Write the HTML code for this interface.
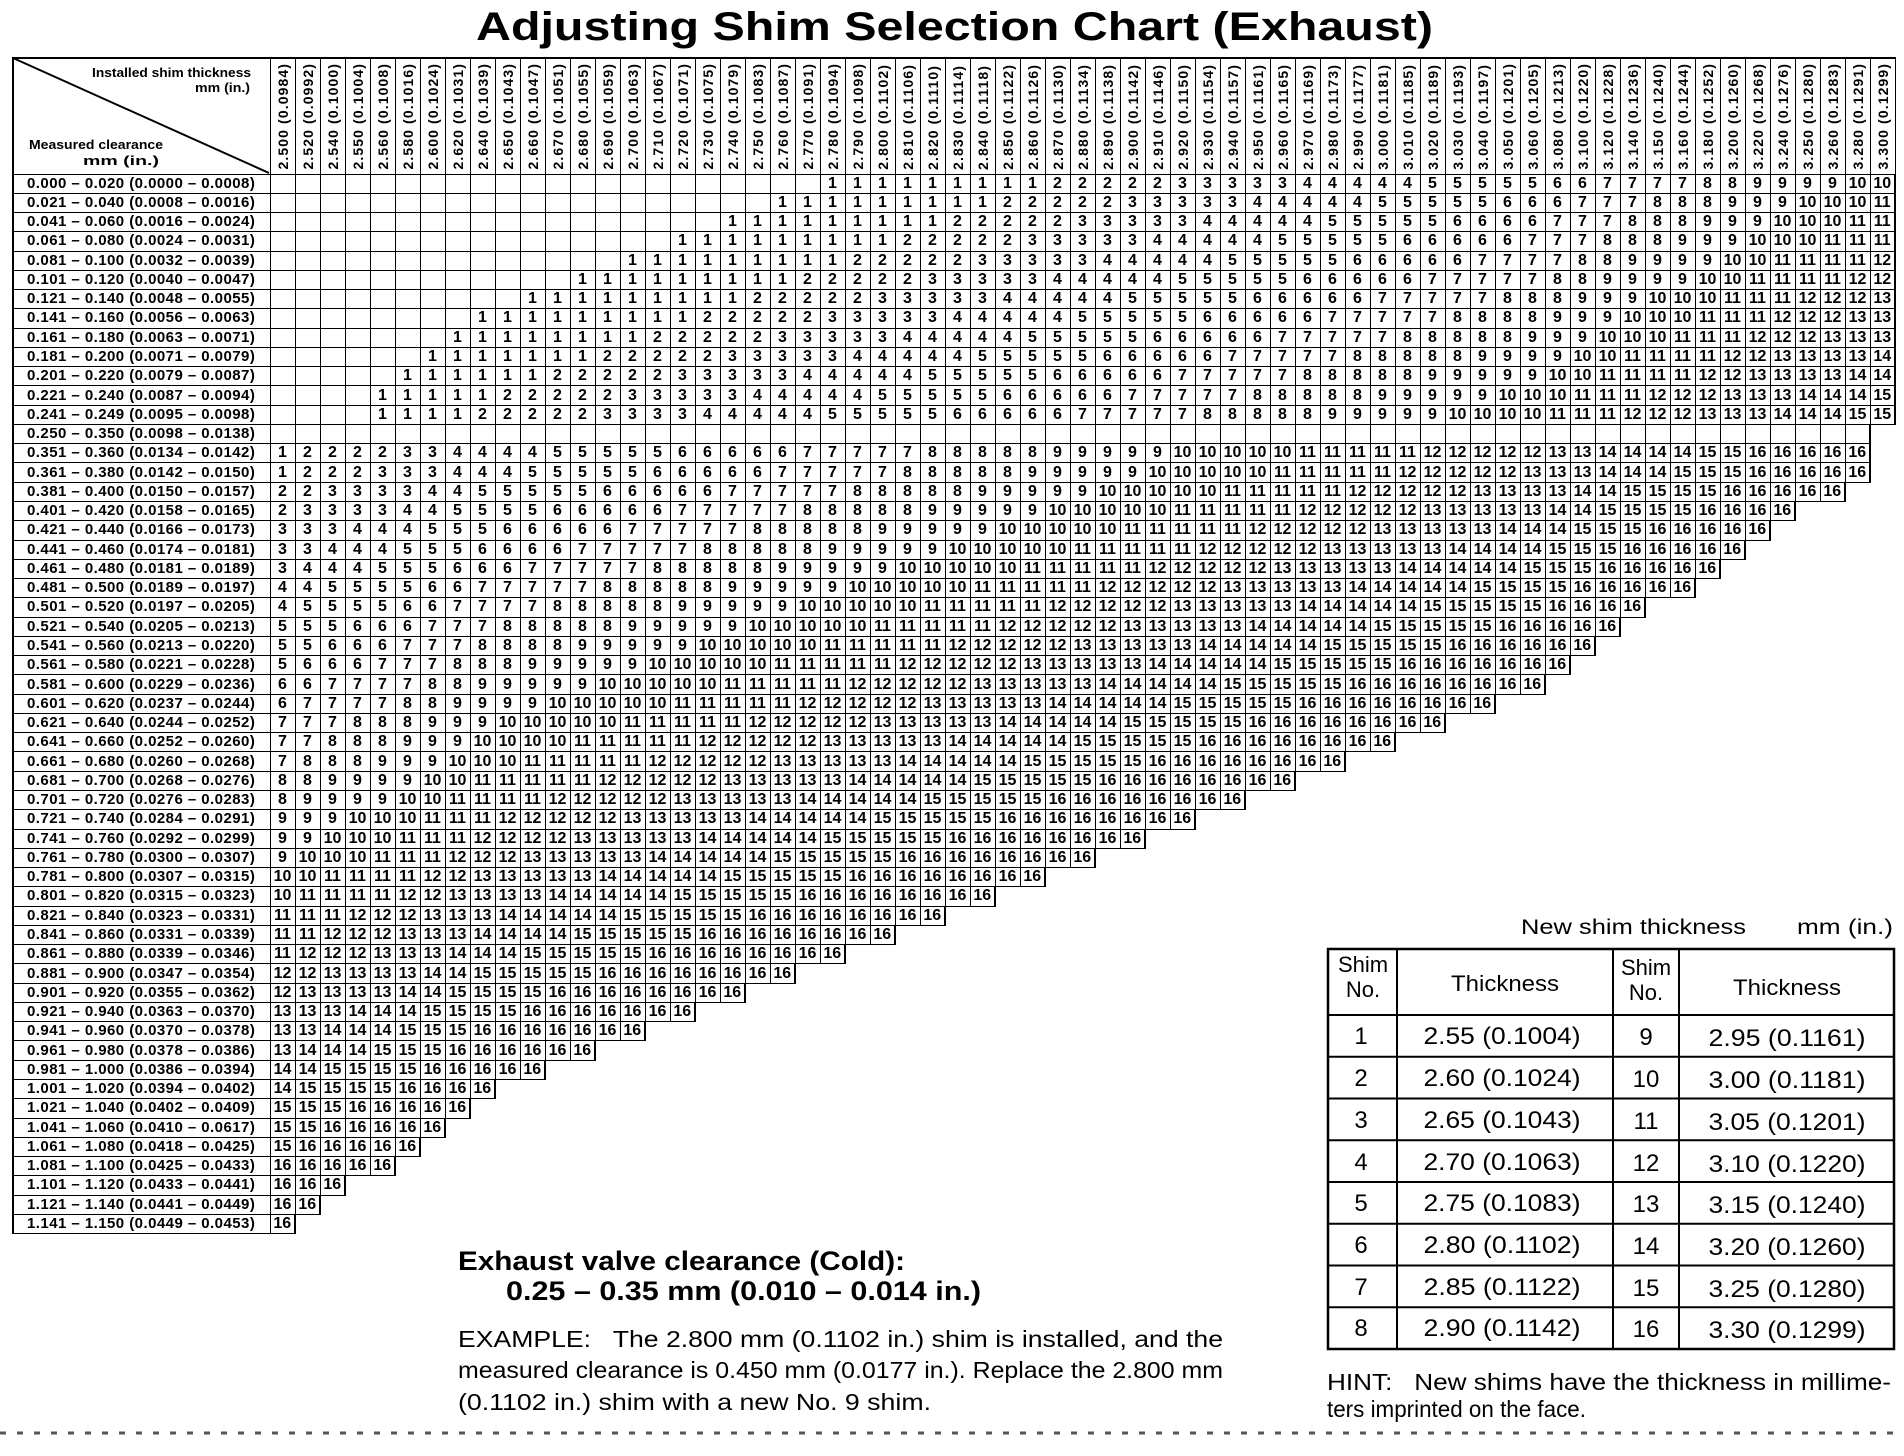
<!DOCTYPE html>
<html><head><meta charset="utf-8">
<style>
html,body{margin:0;padding:0;background:#fff}
body{width:1904px;height:1456px;position:relative;overflow:hidden;font-family:"Liberation Sans",sans-serif;color:#000}
#t{position:absolute;left:12px;top:57px;border-collapse:collapse;table-layout:fixed;width:1882px;font:bold 16px "Liberation Sans",sans-serif}
#t td,#t th{border:1px solid #000;padding:0;text-align:center;vertical-align:middle;line-height:14px;overflow:hidden;white-space:nowrap}
#t tr{height:19.27px}
#t th{text-align:left;padding-left:13px;letter-spacing:.45px;border-left:2px solid #000;font-size:15px}
#t tr.h{height:116px}
#t tr.h th{vertical-align:bottom;text-align:center;padding:0 0 4px 0;line-height:0;font-size:0;letter-spacing:0;border-top:2px solid #000;border-left:1px solid #000}
#t tr.h th.c{border-left:2px solid #000}
#t tr.h th i{display:inline-block;writing-mode:vertical-rl;transform:rotate(180deg);font-style:normal;font-size:14px;line-height:14px;letter-spacing:1.1px}
#t td:last-child{border-right:2px solid #000}
svg{position:absolute;left:0;top:0}
</style></head><body>
<table id="t">
<colgroup><col style="width:257px"><col span="65" style="width:25px"></colgroup>
<tr class="h"><th class="c"></th><th><i>2.500 (0.0984)</i><th><i>2.520 (0.0992)</i><th><i>2.540 (0.1000)</i><th><i>2.550 (0.1004)</i><th><i>2.560 (0.1008)</i><th><i>2.580 (0.1016)</i><th><i>2.600 (0.1024)</i><th><i>2.620 (0.1031)</i><th><i>2.640 (0.1039)</i><th><i>2.650 (0.1043)</i><th><i>2.660 (0.1047)</i><th><i>2.670 (0.1051)</i><th><i>2.680 (0.1055)</i><th><i>2.690 (0.1059)</i><th><i>2.700 (0.1063)</i><th><i>2.710 (0.1067)</i><th><i>2.720 (0.1071)</i><th><i>2.730 (0.1075)</i><th><i>2.740 (0.1079)</i><th><i>2.750 (0.1083)</i><th><i>2.760 (0.1087)</i><th><i>2.770 (0.1091)</i><th><i>2.780 (0.1094)</i><th><i>2.790 (0.1098)</i><th><i>2.800 (0.1102)</i><th><i>2.810 (0.1106)</i><th><i>2.820 (0.1110)</i><th><i>2.830 (0.1114)</i><th><i>2.840 (0.1118)</i><th><i>2.850 (0.1122)</i><th><i>2.860 (0.1126)</i><th><i>2.870 (0.1130)</i><th><i>2.880 (0.1134)</i><th><i>2.890 (0.1138)</i><th><i>2.900 (0.1142)</i><th><i>2.910 (0.1146)</i><th><i>2.920 (0.1150)</i><th><i>2.930 (0.1154)</i><th><i>2.940 (0.1157)</i><th><i>2.950 (0.1161)</i><th><i>2.960 (0.1165)</i><th><i>2.970 (0.1169)</i><th><i>2.980 (0.1173)</i><th><i>2.990 (0.1177)</i><th><i>3.000 (0.1181)</i><th><i>3.010 (0.1185)</i><th><i>3.020 (0.1189)</i><th><i>3.030 (0.1193)</i><th><i>3.040 (0.1197)</i><th><i>3.050 (0.1201)</i><th><i>3.060 (0.1205)</i><th><i>3.080 (0.1213)</i><th><i>3.100 (0.1220)</i><th><i>3.120 (0.1228)</i><th><i>3.140 (0.1236)</i><th><i>3.150 (0.1240)</i><th><i>3.160 (0.1244)</i><th><i>3.180 (0.1252)</i><th><i>3.200 (0.1260)</i><th><i>3.220 (0.1268)</i><th><i>3.240 (0.1276)</i><th><i>3.250 (0.1280)</i><th><i>3.260 (0.1283)</i><th><i>3.280 (0.1291)</i><th><i>3.300 (0.1299)</i>
<tr><th>0.000 – 0.020 (0.0000 – 0.0008)<td><td><td><td><td><td><td><td><td><td><td><td><td><td><td><td><td><td><td><td><td><td><td>1<td>1<td>1<td>1<td>1<td>1<td>1<td>1<td>1<td>2<td>2<td>2<td>2<td>2<td>3<td>3<td>3<td>3<td>3<td>4<td>4<td>4<td>4<td>4<td>5<td>5<td>5<td>5<td>5<td>6<td>6<td>7<td>7<td>7<td>7<td>8<td>8<td>9<td>9<td>9<td>9<td>10<td>10
<tr><th>0.021 – 0.040 (0.0008 – 0.0016)<td><td><td><td><td><td><td><td><td><td><td><td><td><td><td><td><td><td><td><td><td>1<td>1<td>1<td>1<td>1<td>1<td>1<td>1<td>1<td>2<td>2<td>2<td>2<td>2<td>3<td>3<td>3<td>3<td>3<td>4<td>4<td>4<td>4<td>4<td>5<td>5<td>5<td>5<td>5<td>6<td>6<td>6<td>7<td>7<td>7<td>8<td>8<td>8<td>9<td>9<td>9<td>10<td>10<td>10<td>11
<tr><th>0.041 – 0.060 (0.0016 – 0.0024)<td><td><td><td><td><td><td><td><td><td><td><td><td><td><td><td><td><td><td>1<td>1<td>1<td>1<td>1<td>1<td>1<td>1<td>1<td>2<td>2<td>2<td>2<td>2<td>3<td>3<td>3<td>3<td>3<td>4<td>4<td>4<td>4<td>4<td>5<td>5<td>5<td>5<td>5<td>6<td>6<td>6<td>6<td>7<td>7<td>7<td>8<td>8<td>8<td>9<td>9<td>9<td>10<td>10<td>10<td>11<td>11
<tr><th>0.061 – 0.080 (0.0024 – 0.0031)<td><td><td><td><td><td><td><td><td><td><td><td><td><td><td><td><td>1<td>1<td>1<td>1<td>1<td>1<td>1<td>1<td>1<td>2<td>2<td>2<td>2<td>2<td>3<td>3<td>3<td>3<td>3<td>4<td>4<td>4<td>4<td>4<td>5<td>5<td>5<td>5<td>5<td>6<td>6<td>6<td>6<td>6<td>7<td>7<td>7<td>8<td>8<td>8<td>9<td>9<td>9<td>10<td>10<td>10<td>11<td>11<td>11
<tr><th>0.081 – 0.100 (0.0032 – 0.0039)<td><td><td><td><td><td><td><td><td><td><td><td><td><td><td>1<td>1<td>1<td>1<td>1<td>1<td>1<td>1<td>1<td>2<td>2<td>2<td>2<td>2<td>3<td>3<td>3<td>3<td>3<td>4<td>4<td>4<td>4<td>4<td>5<td>5<td>5<td>5<td>5<td>6<td>6<td>6<td>6<td>6<td>7<td>7<td>7<td>7<td>8<td>8<td>9<td>9<td>9<td>9<td>10<td>10<td>11<td>11<td>11<td>11<td>12
<tr><th>0.101 – 0.120 (0.0040 – 0.0047)<td><td><td><td><td><td><td><td><td><td><td><td><td>1<td>1<td>1<td>1<td>1<td>1<td>1<td>1<td>1<td>2<td>2<td>2<td>2<td>2<td>3<td>3<td>3<td>3<td>3<td>4<td>4<td>4<td>4<td>4<td>5<td>5<td>5<td>5<td>5<td>6<td>6<td>6<td>6<td>6<td>7<td>7<td>7<td>7<td>7<td>8<td>8<td>9<td>9<td>9<td>9<td>10<td>10<td>11<td>11<td>11<td>11<td>12<td>12
<tr><th>0.121 – 0.140 (0.0048 – 0.0055)<td><td><td><td><td><td><td><td><td><td><td>1<td>1<td>1<td>1<td>1<td>1<td>1<td>1<td>1<td>2<td>2<td>2<td>2<td>2<td>3<td>3<td>3<td>3<td>3<td>4<td>4<td>4<td>4<td>4<td>5<td>5<td>5<td>5<td>5<td>6<td>6<td>6<td>6<td>6<td>7<td>7<td>7<td>7<td>7<td>8<td>8<td>8<td>9<td>9<td>9<td>10<td>10<td>10<td>11<td>11<td>11<td>12<td>12<td>12<td>13
<tr><th>0.141 – 0.160 (0.0056 – 0.0063)<td><td><td><td><td><td><td><td><td>1<td>1<td>1<td>1<td>1<td>1<td>1<td>1<td>1<td>2<td>2<td>2<td>2<td>2<td>3<td>3<td>3<td>3<td>3<td>4<td>4<td>4<td>4<td>4<td>5<td>5<td>5<td>5<td>5<td>6<td>6<td>6<td>6<td>6<td>7<td>7<td>7<td>7<td>7<td>8<td>8<td>8<td>8<td>9<td>9<td>9<td>10<td>10<td>10<td>11<td>11<td>11<td>12<td>12<td>12<td>13<td>13
<tr><th>0.161 – 0.180 (0.0063 – 0.0071)<td><td><td><td><td><td><td><td>1<td>1<td>1<td>1<td>1<td>1<td>1<td>1<td>2<td>2<td>2<td>2<td>2<td>3<td>3<td>3<td>3<td>3<td>4<td>4<td>4<td>4<td>4<td>5<td>5<td>5<td>5<td>5<td>6<td>6<td>6<td>6<td>6<td>7<td>7<td>7<td>7<td>7<td>8<td>8<td>8<td>8<td>8<td>9<td>9<td>9<td>10<td>10<td>10<td>11<td>11<td>11<td>12<td>12<td>12<td>13<td>13<td>13
<tr><th>0.181 – 0.200 (0.0071 – 0.0079)<td><td><td><td><td><td><td>1<td>1<td>1<td>1<td>1<td>1<td>1<td>2<td>2<td>2<td>2<td>2<td>3<td>3<td>3<td>3<td>3<td>4<td>4<td>4<td>4<td>4<td>5<td>5<td>5<td>5<td>5<td>6<td>6<td>6<td>6<td>6<td>7<td>7<td>7<td>7<td>7<td>8<td>8<td>8<td>8<td>8<td>9<td>9<td>9<td>9<td>10<td>10<td>11<td>11<td>11<td>11<td>12<td>12<td>13<td>13<td>13<td>13<td>14
<tr><th>0.201 – 0.220 (0.0079 – 0.0087)<td><td><td><td><td><td>1<td>1<td>1<td>1<td>1<td>1<td>2<td>2<td>2<td>2<td>2<td>3<td>3<td>3<td>3<td>3<td>4<td>4<td>4<td>4<td>4<td>5<td>5<td>5<td>5<td>5<td>6<td>6<td>6<td>6<td>6<td>7<td>7<td>7<td>7<td>7<td>8<td>8<td>8<td>8<td>8<td>9<td>9<td>9<td>9<td>9<td>10<td>10<td>11<td>11<td>11<td>11<td>12<td>12<td>13<td>13<td>13<td>13<td>14<td>14
<tr><th>0.221 – 0.240 (0.0087 – 0.0094)<td><td><td><td><td>1<td>1<td>1<td>1<td>1<td>2<td>2<td>2<td>2<td>2<td>3<td>3<td>3<td>3<td>3<td>4<td>4<td>4<td>4<td>4<td>5<td>5<td>5<td>5<td>5<td>6<td>6<td>6<td>6<td>6<td>7<td>7<td>7<td>7<td>7<td>8<td>8<td>8<td>8<td>8<td>9<td>9<td>9<td>9<td>9<td>10<td>10<td>10<td>11<td>11<td>11<td>12<td>12<td>12<td>13<td>13<td>13<td>14<td>14<td>14<td>15
<tr><th>0.241 – 0.249 (0.0095 – 0.0098)<td><td><td><td><td>1<td>1<td>1<td>1<td>2<td>2<td>2<td>2<td>2<td>3<td>3<td>3<td>3<td>4<td>4<td>4<td>4<td>4<td>5<td>5<td>5<td>5<td>5<td>6<td>6<td>6<td>6<td>6<td>7<td>7<td>7<td>7<td>7<td>8<td>8<td>8<td>8<td>8<td>9<td>9<td>9<td>9<td>9<td>10<td>10<td>10<td>10<td>11<td>11<td>11<td>12<td>12<td>12<td>13<td>13<td>13<td>14<td>14<td>14<td>15<td>15
<tr><th>0.250 – 0.350 (0.0098 – 0.0138)<td><td><td><td><td><td><td><td><td><td><td><td><td><td><td><td><td><td><td><td><td><td><td><td><td><td><td><td><td><td><td><td><td><td><td><td><td><td><td><td><td><td><td><td><td><td><td><td><td><td><td><td><td><td><td><td><td><td><td><td><td><td><td><td>
<tr><th>0.351 – 0.360 (0.0134 – 0.0142)<td>1<td>2<td>2<td>2<td>2<td>3<td>3<td>4<td>4<td>4<td>4<td>5<td>5<td>5<td>5<td>5<td>6<td>6<td>6<td>6<td>6<td>7<td>7<td>7<td>7<td>7<td>8<td>8<td>8<td>8<td>8<td>9<td>9<td>9<td>9<td>9<td>10<td>10<td>10<td>10<td>10<td>11<td>11<td>11<td>11<td>11<td>12<td>12<td>12<td>12<td>12<td>13<td>13<td>14<td>14<td>14<td>14<td>15<td>15<td>16<td>16<td>16<td>16<td>16
<tr><th>0.361 – 0.380 (0.0142 – 0.0150)<td>1<td>2<td>2<td>2<td>3<td>3<td>3<td>4<td>4<td>4<td>5<td>5<td>5<td>5<td>5<td>6<td>6<td>6<td>6<td>6<td>7<td>7<td>7<td>7<td>7<td>8<td>8<td>8<td>8<td>8<td>9<td>9<td>9<td>9<td>9<td>10<td>10<td>10<td>10<td>10<td>11<td>11<td>11<td>11<td>11<td>12<td>12<td>12<td>12<td>12<td>13<td>13<td>13<td>14<td>14<td>14<td>15<td>15<td>15<td>16<td>16<td>16<td>16<td>16
<tr><th>0.381 – 0.400 (0.0150 – 0.0157)<td>2<td>2<td>3<td>3<td>3<td>3<td>4<td>4<td>5<td>5<td>5<td>5<td>5<td>6<td>6<td>6<td>6<td>6<td>7<td>7<td>7<td>7<td>7<td>8<td>8<td>8<td>8<td>8<td>9<td>9<td>9<td>9<td>9<td>10<td>10<td>10<td>10<td>10<td>11<td>11<td>11<td>11<td>11<td>12<td>12<td>12<td>12<td>12<td>13<td>13<td>13<td>13<td>14<td>14<td>15<td>15<td>15<td>15<td>16<td>16<td>16<td>16<td>16
<tr><th>0.401 – 0.420 (0.0158 – 0.0165)<td>2<td>3<td>3<td>3<td>3<td>4<td>4<td>5<td>5<td>5<td>5<td>6<td>6<td>6<td>6<td>6<td>7<td>7<td>7<td>7<td>7<td>8<td>8<td>8<td>8<td>8<td>9<td>9<td>9<td>9<td>9<td>10<td>10<td>10<td>10<td>10<td>11<td>11<td>11<td>11<td>11<td>12<td>12<td>12<td>12<td>12<td>13<td>13<td>13<td>13<td>13<td>14<td>14<td>15<td>15<td>15<td>15<td>16<td>16<td>16<td>16
<tr><th>0.421 – 0.440 (0.0166 – 0.0173)<td>3<td>3<td>3<td>4<td>4<td>4<td>5<td>5<td>5<td>6<td>6<td>6<td>6<td>6<td>7<td>7<td>7<td>7<td>7<td>8<td>8<td>8<td>8<td>8<td>9<td>9<td>9<td>9<td>9<td>10<td>10<td>10<td>10<td>10<td>11<td>11<td>11<td>11<td>11<td>12<td>12<td>12<td>12<td>12<td>13<td>13<td>13<td>13<td>13<td>14<td>14<td>14<td>15<td>15<td>15<td>16<td>16<td>16<td>16<td>16
<tr><th>0.441 – 0.460 (0.0174 – 0.0181)<td>3<td>3<td>4<td>4<td>4<td>5<td>5<td>5<td>6<td>6<td>6<td>6<td>7<td>7<td>7<td>7<td>7<td>8<td>8<td>8<td>8<td>8<td>9<td>9<td>9<td>9<td>9<td>10<td>10<td>10<td>10<td>10<td>11<td>11<td>11<td>11<td>11<td>12<td>12<td>12<td>12<td>12<td>13<td>13<td>13<td>13<td>13<td>14<td>14<td>14<td>14<td>15<td>15<td>15<td>16<td>16<td>16<td>16<td>16
<tr><th>0.461 – 0.480 (0.0181 – 0.0189)<td>3<td>4<td>4<td>4<td>5<td>5<td>5<td>6<td>6<td>6<td>7<td>7<td>7<td>7<td>7<td>8<td>8<td>8<td>8<td>8<td>9<td>9<td>9<td>9<td>9<td>10<td>10<td>10<td>10<td>10<td>11<td>11<td>11<td>11<td>11<td>12<td>12<td>12<td>12<td>12<td>13<td>13<td>13<td>13<td>13<td>14<td>14<td>14<td>14<td>14<td>15<td>15<td>15<td>16<td>16<td>16<td>16<td>16
<tr><th>0.481 – 0.500 (0.0189 – 0.0197)<td>4<td>4<td>5<td>5<td>5<td>5<td>6<td>6<td>7<td>7<td>7<td>7<td>7<td>8<td>8<td>8<td>8<td>8<td>9<td>9<td>9<td>9<td>9<td>10<td>10<td>10<td>10<td>10<td>11<td>11<td>11<td>11<td>11<td>12<td>12<td>12<td>12<td>12<td>13<td>13<td>13<td>13<td>13<td>14<td>14<td>14<td>14<td>14<td>15<td>15<td>15<td>15<td>16<td>16<td>16<td>16<td>16
<tr><th>0.501 – 0.520 (0.0197 – 0.0205)<td>4<td>5<td>5<td>5<td>5<td>6<td>6<td>7<td>7<td>7<td>7<td>8<td>8<td>8<td>8<td>8<td>9<td>9<td>9<td>9<td>9<td>10<td>10<td>10<td>10<td>10<td>11<td>11<td>11<td>11<td>11<td>12<td>12<td>12<td>12<td>12<td>13<td>13<td>13<td>13<td>13<td>14<td>14<td>14<td>14<td>14<td>15<td>15<td>15<td>15<td>15<td>16<td>16<td>16<td>16
<tr><th>0.521 – 0.540 (0.0205 – 0.0213)<td>5<td>5<td>5<td>6<td>6<td>6<td>7<td>7<td>7<td>8<td>8<td>8<td>8<td>8<td>9<td>9<td>9<td>9<td>9<td>10<td>10<td>10<td>10<td>10<td>11<td>11<td>11<td>11<td>11<td>12<td>12<td>12<td>12<td>12<td>13<td>13<td>13<td>13<td>13<td>14<td>14<td>14<td>14<td>14<td>15<td>15<td>15<td>15<td>15<td>16<td>16<td>16<td>16<td>16
<tr><th>0.541 – 0.560 (0.0213 – 0.0220)<td>5<td>5<td>6<td>6<td>6<td>7<td>7<td>7<td>8<td>8<td>8<td>8<td>9<td>9<td>9<td>9<td>9<td>10<td>10<td>10<td>10<td>10<td>11<td>11<td>11<td>11<td>11<td>12<td>12<td>12<td>12<td>12<td>13<td>13<td>13<td>13<td>13<td>14<td>14<td>14<td>14<td>14<td>15<td>15<td>15<td>15<td>15<td>16<td>16<td>16<td>16<td>16<td>16
<tr><th>0.561 – 0.580 (0.0221 – 0.0228)<td>5<td>6<td>6<td>6<td>7<td>7<td>7<td>8<td>8<td>8<td>9<td>9<td>9<td>9<td>9<td>10<td>10<td>10<td>10<td>10<td>11<td>11<td>11<td>11<td>11<td>12<td>12<td>12<td>12<td>12<td>13<td>13<td>13<td>13<td>13<td>14<td>14<td>14<td>14<td>14<td>15<td>15<td>15<td>15<td>15<td>16<td>16<td>16<td>16<td>16<td>16<td>16
<tr><th>0.581 – 0.600 (0.0229 – 0.0236)<td>6<td>6<td>7<td>7<td>7<td>7<td>8<td>8<td>9<td>9<td>9<td>9<td>9<td>10<td>10<td>10<td>10<td>10<td>11<td>11<td>11<td>11<td>11<td>12<td>12<td>12<td>12<td>12<td>13<td>13<td>13<td>13<td>13<td>14<td>14<td>14<td>14<td>14<td>15<td>15<td>15<td>15<td>15<td>16<td>16<td>16<td>16<td>16<td>16<td>16<td>16
<tr><th>0.601 – 0.620 (0.0237 – 0.0244)<td>6<td>7<td>7<td>7<td>7<td>8<td>8<td>9<td>9<td>9<td>9<td>10<td>10<td>10<td>10<td>10<td>11<td>11<td>11<td>11<td>11<td>12<td>12<td>12<td>12<td>12<td>13<td>13<td>13<td>13<td>13<td>14<td>14<td>14<td>14<td>14<td>15<td>15<td>15<td>15<td>15<td>16<td>16<td>16<td>16<td>16<td>16<td>16<td>16
<tr><th>0.621 – 0.640 (0.0244 – 0.0252)<td>7<td>7<td>7<td>8<td>8<td>8<td>9<td>9<td>9<td>10<td>10<td>10<td>10<td>10<td>11<td>11<td>11<td>11<td>11<td>12<td>12<td>12<td>12<td>12<td>13<td>13<td>13<td>13<td>13<td>14<td>14<td>14<td>14<td>14<td>15<td>15<td>15<td>15<td>15<td>16<td>16<td>16<td>16<td>16<td>16<td>16<td>16
<tr><th>0.641 – 0.660 (0.0252 – 0.0260)<td>7<td>7<td>8<td>8<td>8<td>9<td>9<td>9<td>10<td>10<td>10<td>10<td>11<td>11<td>11<td>11<td>11<td>12<td>12<td>12<td>12<td>12<td>13<td>13<td>13<td>13<td>13<td>14<td>14<td>14<td>14<td>14<td>15<td>15<td>15<td>15<td>15<td>16<td>16<td>16<td>16<td>16<td>16<td>16<td>16
<tr><th>0.661 – 0.680 (0.0260 – 0.0268)<td>7<td>8<td>8<td>8<td>9<td>9<td>9<td>10<td>10<td>10<td>11<td>11<td>11<td>11<td>11<td>12<td>12<td>12<td>12<td>12<td>13<td>13<td>13<td>13<td>13<td>14<td>14<td>14<td>14<td>14<td>15<td>15<td>15<td>15<td>15<td>16<td>16<td>16<td>16<td>16<td>16<td>16<td>16
<tr><th>0.681 – 0.700 (0.0268 – 0.0276)<td>8<td>8<td>9<td>9<td>9<td>9<td>10<td>10<td>11<td>11<td>11<td>11<td>11<td>12<td>12<td>12<td>12<td>12<td>13<td>13<td>13<td>13<td>13<td>14<td>14<td>14<td>14<td>14<td>15<td>15<td>15<td>15<td>15<td>16<td>16<td>16<td>16<td>16<td>16<td>16<td>16
<tr><th>0.701 – 0.720 (0.0276 – 0.0283)<td>8<td>9<td>9<td>9<td>9<td>10<td>10<td>11<td>11<td>11<td>11<td>12<td>12<td>12<td>12<td>12<td>13<td>13<td>13<td>13<td>13<td>14<td>14<td>14<td>14<td>14<td>15<td>15<td>15<td>15<td>15<td>16<td>16<td>16<td>16<td>16<td>16<td>16<td>16
<tr><th>0.721 – 0.740 (0.0284 – 0.0291)<td>9<td>9<td>9<td>10<td>10<td>10<td>11<td>11<td>11<td>12<td>12<td>12<td>12<td>12<td>13<td>13<td>13<td>13<td>13<td>14<td>14<td>14<td>14<td>14<td>15<td>15<td>15<td>15<td>15<td>16<td>16<td>16<td>16<td>16<td>16<td>16<td>16
<tr><th>0.741 – 0.760 (0.0292 – 0.0299)<td>9<td>9<td>10<td>10<td>10<td>11<td>11<td>11<td>12<td>12<td>12<td>12<td>13<td>13<td>13<td>13<td>13<td>14<td>14<td>14<td>14<td>14<td>15<td>15<td>15<td>15<td>15<td>16<td>16<td>16<td>16<td>16<td>16<td>16<td>16
<tr><th>0.761 – 0.780 (0.0300 – 0.0307)<td>9<td>10<td>10<td>10<td>11<td>11<td>11<td>12<td>12<td>12<td>13<td>13<td>13<td>13<td>13<td>14<td>14<td>14<td>14<td>14<td>15<td>15<td>15<td>15<td>15<td>16<td>16<td>16<td>16<td>16<td>16<td>16<td>16
<tr><th>0.781 – 0.800 (0.0307 – 0.0315)<td>10<td>10<td>11<td>11<td>11<td>11<td>12<td>12<td>13<td>13<td>13<td>13<td>13<td>14<td>14<td>14<td>14<td>14<td>15<td>15<td>15<td>15<td>15<td>16<td>16<td>16<td>16<td>16<td>16<td>16<td>16
<tr><th>0.801 – 0.820 (0.0315 – 0.0323)<td>10<td>11<td>11<td>11<td>11<td>12<td>12<td>13<td>13<td>13<td>13<td>14<td>14<td>14<td>14<td>14<td>15<td>15<td>15<td>15<td>15<td>16<td>16<td>16<td>16<td>16<td>16<td>16<td>16
<tr><th>0.821 – 0.840 (0.0323 – 0.0331)<td>11<td>11<td>11<td>12<td>12<td>12<td>13<td>13<td>13<td>14<td>14<td>14<td>14<td>14<td>15<td>15<td>15<td>15<td>15<td>16<td>16<td>16<td>16<td>16<td>16<td>16<td>16
<tr><th>0.841 – 0.860 (0.0331 – 0.0339)<td>11<td>11<td>12<td>12<td>12<td>13<td>13<td>13<td>14<td>14<td>14<td>14<td>15<td>15<td>15<td>15<td>15<td>16<td>16<td>16<td>16<td>16<td>16<td>16<td>16
<tr><th>0.861 – 0.880 (0.0339 – 0.0346)<td>11<td>12<td>12<td>12<td>13<td>13<td>13<td>14<td>14<td>14<td>15<td>15<td>15<td>15<td>15<td>16<td>16<td>16<td>16<td>16<td>16<td>16<td>16
<tr><th>0.881 – 0.900 (0.0347 – 0.0354)<td>12<td>12<td>13<td>13<td>13<td>13<td>14<td>14<td>15<td>15<td>15<td>15<td>15<td>16<td>16<td>16<td>16<td>16<td>16<td>16<td>16
<tr><th>0.901 – 0.920 (0.0355 – 0.0362)<td>12<td>13<td>13<td>13<td>13<td>14<td>14<td>15<td>15<td>15<td>15<td>16<td>16<td>16<td>16<td>16<td>16<td>16<td>16
<tr><th>0.921 – 0.940 (0.0363 – 0.0370)<td>13<td>13<td>13<td>14<td>14<td>14<td>15<td>15<td>15<td>15<td>16<td>16<td>16<td>16<td>16<td>16<td>16
<tr><th>0.941 – 0.960 (0.0370 – 0.0378)<td>13<td>13<td>14<td>14<td>14<td>15<td>15<td>15<td>16<td>16<td>16<td>16<td>16<td>16<td>16
<tr><th>0.961 – 0.980 (0.0378 – 0.0386)<td>13<td>14<td>14<td>14<td>15<td>15<td>15<td>16<td>16<td>16<td>16<td>16<td>16
<tr><th>0.981 – 1.000 (0.0386 – 0.0394)<td>14<td>14<td>15<td>15<td>15<td>15<td>16<td>16<td>16<td>16<td>16
<tr><th>1.001 – 1.020 (0.0394 – 0.0402)<td>14<td>15<td>15<td>15<td>15<td>16<td>16<td>16<td>16
<tr><th>1.021 – 1.040 (0.0402 – 0.0409)<td>15<td>15<td>15<td>16<td>16<td>16<td>16<td>16
<tr><th>1.041 – 1.060 (0.0410 – 0.0617)<td>15<td>15<td>16<td>16<td>16<td>16<td>16
<tr><th>1.061 – 1.080 (0.0418 – 0.0425)<td>15<td>16<td>16<td>16<td>16<td>16
<tr><th>1.081 – 1.100 (0.0425 – 0.0433)<td>16<td>16<td>16<td>16<td>16
<tr><th>1.101 – 1.120 (0.0433 – 0.0441)<td>16<td>16<td>16
<tr><th>1.121 – 1.140 (0.0441 – 0.0449)<td>16<td>16
<tr><th>1.141 – 1.150 (0.0449 – 0.0453)<td>16
</table>
<svg width="1904" height="1456" viewBox="0 0 1904 1456" font-family="Liberation Sans, sans-serif">
<text x="476" y="40" font-size="40" font-weight="bold" textLength="957" lengthAdjust="spacingAndGlyphs">Adjusting Shim Selection Chart (Exhaust)</text>
<line x1="13" y1="58" x2="269" y2="173" stroke="#000" stroke-width="2"/>
<text x="251" y="77" font-size="13" font-weight="bold" text-anchor="end" textLength="159" lengthAdjust="spacingAndGlyphs">Installed shim thickness</text>
<text x="250" y="92" font-size="13" font-weight="bold" text-anchor="end" textLength="55" lengthAdjust="spacingAndGlyphs">mm (in.)</text>
<text x="29" y="149" font-size="13" font-weight="bold" textLength="134" lengthAdjust="spacingAndGlyphs">Measured clearance</text>
<text x="83" y="165" font-size="13" font-weight="bold" textLength="76" lengthAdjust="spacingAndGlyphs">mm (in.)</text>

<text x="1521" y="934" font-size="21" textLength="225" lengthAdjust="spacingAndGlyphs">New shim thickness</text>
<text x="1797" y="934" font-size="21" textLength="96" lengthAdjust="spacingAndGlyphs" style="white-space:pre">mm (in.)</text>
<g fill="none" stroke="#000" stroke-width="2.5">
<rect x="1328" y="949" width="566" height="400"/>
</g>
<g stroke="#000" stroke-width="2">
<line x1="1397" y1="949" x2="1397" y2="1349"/>
<line x1="1613" y1="949" x2="1613" y2="1349"/>
<line x1="1679" y1="949" x2="1679" y2="1349"/>
<line x1="1328" y1="1015" x2="1894" y2="1015"/>
<line x1="1328" y1="1056.75" x2="1894" y2="1056.75"/>
<line x1="1328" y1="1098.5" x2="1894" y2="1098.5"/>
<line x1="1328" y1="1140.25" x2="1894" y2="1140.25"/>
<line x1="1328" y1="1182" x2="1894" y2="1182"/>
<line x1="1328" y1="1223.75" x2="1894" y2="1223.75"/>
<line x1="1328" y1="1265.5" x2="1894" y2="1265.5"/>
<line x1="1328" y1="1307.25" x2="1894" y2="1307.25"/>
</g>
<g font-size="22" text-anchor="middle">
<text x="1363" y="972">Shim</text><text x="1363" y="997">No.</text>
<text x="1505" y="991" textLength="108" lengthAdjust="spacingAndGlyphs">Thickness</text>
<text x="1646" y="975">Shim</text><text x="1646" y="1000">No.</text>
<text x="1787" y="995" textLength="108" lengthAdjust="spacingAndGlyphs">Thickness</text>
</g>
<g font-size="24" text-anchor="middle">
<text x="1361" y="1044">1</text><text x="1502" y="1044" textLength="157" lengthAdjust="spacingAndGlyphs">2.55 (0.1004)</text><text x="1646" y="1045">9</text><text x="1787" y="1046" textLength="157" lengthAdjust="spacingAndGlyphs">2.95 (0.1161)</text>
<text x="1361" y="1086">2</text><text x="1502" y="1086" textLength="157" lengthAdjust="spacingAndGlyphs">2.60 (0.1024)</text><text x="1646" y="1087">10</text><text x="1787" y="1088" textLength="157" lengthAdjust="spacingAndGlyphs">3.00 (0.1181)</text>
<text x="1361" y="1128">3</text><text x="1502" y="1128" textLength="157" lengthAdjust="spacingAndGlyphs">2.65 (0.1043)</text><text x="1646" y="1129">11</text><text x="1787" y="1130" textLength="157" lengthAdjust="spacingAndGlyphs">3.05 (0.1201)</text>
<text x="1361" y="1170">4</text><text x="1502" y="1170" textLength="157" lengthAdjust="spacingAndGlyphs">2.70 (0.1063)</text><text x="1646" y="1171">12</text><text x="1787" y="1172" textLength="157" lengthAdjust="spacingAndGlyphs">3.10 (0.1220)</text>
<text x="1361" y="1211">5</text><text x="1502" y="1211" textLength="157" lengthAdjust="spacingAndGlyphs">2.75 (0.1083)</text><text x="1646" y="1212">13</text><text x="1787" y="1213" textLength="157" lengthAdjust="spacingAndGlyphs">3.15 (0.1240)</text>
<text x="1361" y="1253">6</text><text x="1502" y="1253" textLength="157" lengthAdjust="spacingAndGlyphs">2.80 (0.1102)</text><text x="1646" y="1254">14</text><text x="1787" y="1255" textLength="157" lengthAdjust="spacingAndGlyphs">3.20 (0.1260)</text>
<text x="1361" y="1295">7</text><text x="1502" y="1295" textLength="157" lengthAdjust="spacingAndGlyphs">2.85 (0.1122)</text><text x="1646" y="1296">15</text><text x="1787" y="1297" textLength="157" lengthAdjust="spacingAndGlyphs">3.25 (0.1280)</text>
<text x="1361" y="1336">8</text><text x="1502" y="1336" textLength="157" lengthAdjust="spacingAndGlyphs">2.90 (0.1142)</text><text x="1646" y="1337">16</text><text x="1787" y="1338" textLength="157" lengthAdjust="spacingAndGlyphs">3.30 (0.1299)</text>
</g>
<text x="1327" y="1390" font-size="23" textLength="564" lengthAdjust="spacingAndGlyphs" style="white-space:pre">HINT:   New shims have the thickness in millime-</text>
<text x="1327" y="1417" font-size="23" textLength="259" lengthAdjust="spacingAndGlyphs">ters imprinted on the face.</text>

<text x="458" y="1270" font-size="27" font-weight="bold" textLength="447" lengthAdjust="spacingAndGlyphs">Exhaust valve clearance (Cold):</text>
<text x="506" y="1300" font-size="27" font-weight="bold" textLength="475" lengthAdjust="spacingAndGlyphs">0.25 – 0.35 mm (0.010 – 0.014 in.)</text>
<text x="458" y="1347" font-size="23" textLength="765" lengthAdjust="spacingAndGlyphs" style="white-space:pre">EXAMPLE:   The 2.800 mm (0.1102 in.) shim is installed, and the</text>
<text x="458" y="1378" font-size="23" textLength="765" lengthAdjust="spacingAndGlyphs">measured clearance is 0.450 mm (0.0177 in.). Replace the 2.800 mm</text>
<text x="458" y="1410" font-size="23" textLength="473" lengthAdjust="spacingAndGlyphs">(0.1102 in.) shim with a new No. 9 shim.</text>
<line x1="0" y1="1433" x2="1904" y2="1433" stroke="#555" stroke-width="3" stroke-dasharray="6 11"/>
</svg>
</body></html>
